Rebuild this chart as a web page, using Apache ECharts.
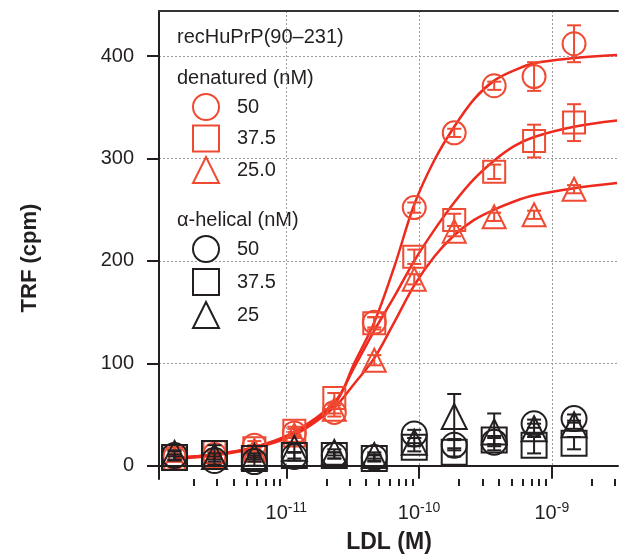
<!DOCTYPE html>
<html style="height: 100%">
<head>
<meta charset="utf-8">
<script src="https://cdn.jsdelivr.net/npm/echarts@6/dist/echarts.min.js"></script>
</head>
<body style="height: 100%; margin: 0; background: #fff">
<div id="main" style="width: 619px; height: 556px"></div>
<script type="text/javascript">
// LDL concentrations (M), 2-fold dilution series
var ldl = [1.44e-12, 2.88e-12, 5.75e-12, 1.15e-11, 2.3e-11, 4.6e-11, 9.2e-11, 1.84e-10, 3.68e-10, 7.35e-10, 1.47e-9];

// denatured recHuPrP (nM)
var den50 = [8, 11, 20, 32, 52, 140, 252, 325, 371, 380, 412];
var den50Err = [3, 3, 4, 4, 4, 5, 5, 4, 4, 14, 18];
var den375 = [7, 13, 17, 34, 66, 139, 204, 240, 287, 317, 335];
var den375Err = [3, 3, 3, 4, 5, 6, 7, 6, 7, 16, 18];
var den25 = [7, 10, 15, 30, 55, 103, 182, 229, 243, 245, 270];
var den25Err = [3, 3, 3, 3, 4, 5, 5, 5, 4, 4, 4];

// alpha-helical recHuPrP (nM)
var hel50 = [10, 5, 4, 9, 10, 8, 31, 20, 23, 41, 46];
var hel50Err = [4, 4, 4, 4, 3, 3, 4, 5, 4, 4, 4];
var hel375 = [8, 12, 7, 10, 10, 7, 18, 13, 25, 20, 22];
var hel375Err = [3, 8, 3, 3, 3, 3, 4, 4, 4, 8, 6];
var hel25 = [12, 9, 9, 17, 13, 10, 23, 48, 33, 36, 40];
var hel25Err = [3, 3, 3, 4, 3, 3, 4, 22, 18, 5, 4];

// fitted curves
var fitX = [1.44e-12, 2.88e-12, 5.75e-12, 1.15e-11, 2.3e-11, 3.25e-11, 4.6e-11, 6.5e-11, 9.2e-11, 1.3e-10, 1.84e-10, 2.6e-10, 3.68e-10, 5.2e-10, 7.35e-10, 1.47e-9, 3.1e-9];
var fit50 = [8, 11, 18, 32, 60, 100, 140, 194, 255, 298, 331, 358, 376, 386, 393, 398, 401];
var fit375 = [8, 11, 18, 33, 62, 96, 132, 165, 200, 230, 257, 280, 298, 312, 321, 331, 337];
var fit25 = [7, 10, 17, 30, 57, 80, 105, 140, 176, 204, 225, 240, 250, 258, 264, 271, 276];

var majorTicks = [1e-11, 1e-10, 1e-9];
var minorTicks = [2e-12, 3e-12, 4e-12, 5e-12, 6e-12, 7e-12, 8e-12, 9e-12,
                  2e-11, 3e-11, 4e-11, 5e-11, 6e-11, 7e-11, 8e-11, 9e-11,
                  2e-10, 3e-10, 4e-10, 5e-10, 6e-10, 7e-10, 8e-10, 9e-10,
                  2e-9, 3e-9];
var yTicks = [0, 100, 200, 300, 400];

var RED_LINE = '#ee2a1e';
var RED = '#ef4a32';
var BLACK = '#231f20';
var FONT = 'Liberation Sans';
var lg = Math.log10;
var xMin = lg(1.1e-12), xMax = lg(3.15e-9);

function pts(xs, ys) {
    return xs.map(function (x, i) { return [lg(x), ys[i]]; });
}

function curve(name, ys) {
    return {
        type: 'line', name: name, data: pts(fitX, ys), smooth: 0.35,
        showSymbol: false, symbol: 'none', silent: true, z: 2,
        lineStyle: { color: RED_LINE, width: 2.5 }
    };
}

function scatter(name, ys, symbol, size, color, z) {
    return {
        type: 'scatter', name: name, data: pts(ldl, ys), symbol: symbol, symbolSize: size, z: z,
        itemStyle: { color: 'transparent', borderColor: color, borderWidth: 2, opacity: 1 }
    };
}

function errBars(name, ys, errs, color, z) {
    return {
        type: 'custom', name: name + ' err', z: z, silent: true,
        encode: { x: 0, y: [1, 2] },
        data: ldl.map(function (x, i) { return [lg(x), ys[i] - errs[i], ys[i] + errs[i]]; }),
        renderItem: function (params, api) {
            var lo = api.coord([api.value(0), api.value(1)]);
            var hi = api.coord([api.value(0), api.value(2)]);
            var w = 7;
            var st = { stroke: color, lineWidth: 2 };
            return {
                type: 'group', children: [
                    { type: 'line', shape: { x1: lo[0], y1: lo[1], x2: hi[0], y2: hi[1] }, style: st },
                    { type: 'line', shape: { x1: lo[0] - w, y1: lo[1], x2: lo[0] + w, y2: lo[1] }, style: st },
                    { type: 'line', shape: { x1: hi[0] - w, y1: hi[1], x2: hi[0] + w, y2: hi[1] }, style: st }
                ]
            };
        }
    };
}

var myChart = echarts.init(document.getElementById('main'));

var legendBase = {
    orient: 'vertical', left: 192, padding: 0, itemWidth: 26, itemHeight: 26,
    selectedMode: false,
    itemStyle: { borderWidth: 2 },
    textStyle: { fontSize: 20, fontFamily: FONT, color: BLACK, padding: [0, 0, 0, 13] },
    formatter: function (n) { return n.split(' ')[1]; }
};

myChart.setOption({
    animation: false,
    backgroundColor: '#fff',
    grid: { left: 159, right: 1, top: 11, bottom: 77 },
    xAxis: [{
        type: 'value', min: xMin, max: xMax, position: 'bottom',
        axisLine: { lineStyle: { color: BLACK, width: 2 } },
        axisTick: { customValues: majorTicks.map(lg), length: 13, lineStyle: { color: BLACK, width: 2 } },
        axisLabel: {
            customValues: majorTicks.map(lg), margin: 22,
            formatter: function (v) { return '{b|10}{s|' + Math.round(v) + '}'; },
            rich: {
                b: { fontSize: 20, fontFamily: FONT, color: BLACK },
                s: { fontSize: 14, fontFamily: FONT, color: BLACK, padding: [0, 0, 10, 0] }
            }
        },
        splitLine: { show: true, lineStyle: { color: '#9a9a9a', type: [2, 2], width: 1 } }
    }, {
        type: 'value', min: xMin, max: xMax, position: 'bottom',
        axisLine: { show: false },
        axisTick: { customValues: minorTicks.map(lg), length: 7, lineStyle: { color: BLACK, width: 2 } },
        axisLabel: { show: false },
        splitLine: { show: false }
    }, {
        type: 'value', min: xMin, max: xMax, position: 'top',
        axisLine: { lineStyle: { color: '#333', width: 2 } },
        axisTick: { show: false }, axisLabel: { show: false }, splitLine: { show: false }
    }],
    yAxis: {
        type: 'value', min: -13, max: 444,
        axisLine: { show: true, lineStyle: { color: BLACK, width: 2 } },
        axisTick: { show: true, customValues: yTicks, length: 12, lineStyle: { color: BLACK, width: 2 } },
        axisLabel: { customValues: yTicks, margin: 25, fontSize: 20, fontFamily: FONT, color: BLACK },
        splitLine: { show: true, lineStyle: { color: '#9a9a9a', type: [2, 2], width: 1 } }
    },
    legend: [
        Object.assign({}, legendBase, {
            top: 93, itemGap: 3.5,
            data: ['denatured 50', 'denatured 37.5', 'denatured 25.0']
        }),
        Object.assign({}, legendBase, {
            top: 235, itemGap: 5,
            data: ['α-helical 50', 'α-helical 37.5', 'α-helical 25']
        })
    ],
    graphic: [
        { type: 'text', x: 177, y: 37, style: { text: 'recHuPrP(90–231)', fontSize: 20, fontFamily: FONT, fill: BLACK, verticalAlign: 'middle' } },
        { type: 'text', x: 177, y: 78, style: { text: 'denatured (nM)', fontSize: 20, fontFamily: FONT, fill: BLACK, verticalAlign: 'middle' } },
        { type: 'text', x: 177, y: 220, style: { text: 'α-helical (nM)', fontSize: 20, fontFamily: FONT, fill: BLACK, verticalAlign: 'middle' } },
        { type: 'text', x: 30, y: 258, rotation: Math.PI / 2, style: { text: 'TRF (cpm)', fontSize: 22, fontWeight: 'bold', fontFamily: FONT, fill: BLACK, align: 'center', verticalAlign: 'middle' } },
        { type: 'text', x: 389, y: 543, style: { text: 'LDL (M)', fontSize: 23, fontWeight: 'bold', fontFamily: FONT, fill: BLACK, align: 'center', verticalAlign: 'middle' } }
    ],
    series: [
        curve('fit 50', fit50),
        curve('fit 37.5', fit375),
        curve('fit 25', fit25),
        errBars('denatured 50', den50, den50Err, RED, 3),
        errBars('denatured 37.5', den375, den375Err, RED, 3),
        errBars('denatured 25.0', den25, den25Err, RED, 3),
        scatter('denatured 50', den50, 'circle', 23, RED, 4),
        scatter('denatured 37.5', den375, 'rect', 22, RED, 4),
        scatter('denatured 25.0', den25, 'triangle', 23, RED, 4),
        errBars('α-helical 50', hel50, hel50Err, BLACK, 5),
        errBars('α-helical 37.5', hel375, hel375Err, BLACK, 5),
        errBars('α-helical 25', hel25, hel25Err, BLACK, 5),
        scatter('α-helical 50', hel50, 'circle', 25, BLACK, 6),
        scatter('α-helical 37.5', hel375, 'rect', 25, BLACK, 6),
        scatter('α-helical 25', hel25, 'triangle', 25, BLACK, 6)
    ]
});
</script>
</body>
</html>
